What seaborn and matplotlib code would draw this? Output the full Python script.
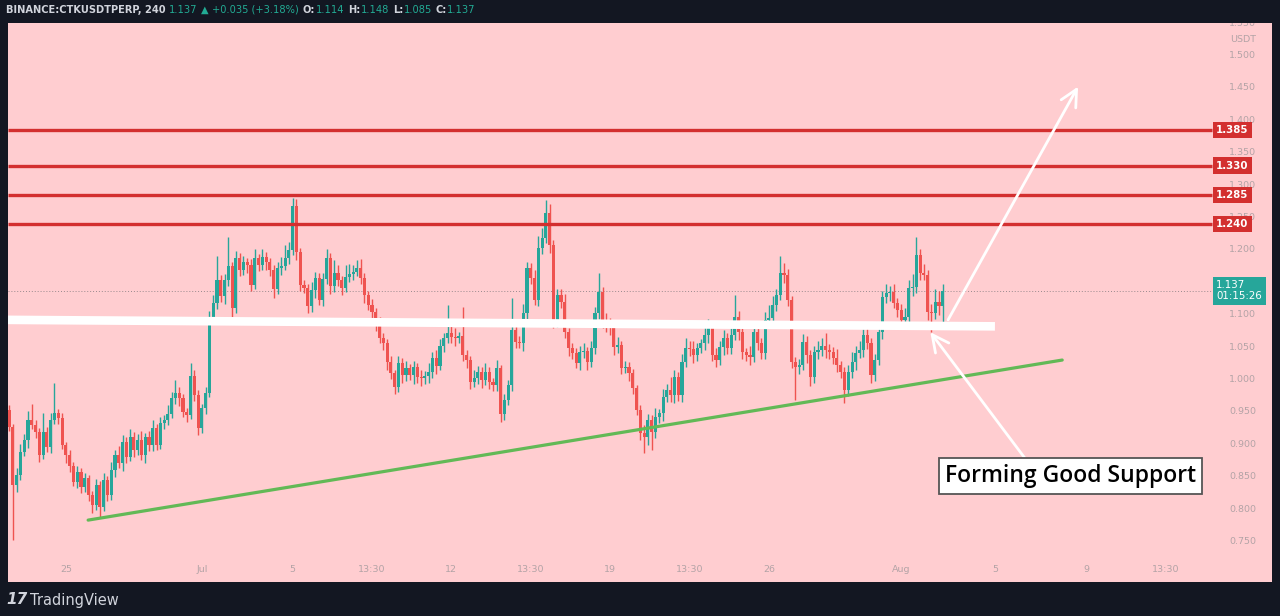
import numpy as np
import pandas as pd
import matplotlib
matplotlib.use("Agg")
import matplotlib.pyplot as plt
import matplotlib.transforms as mtrans
import seaborn as sns

# ---------------- data (4h candles, CTKUSDT perp) ----------------
first_open = 0.953
closes = [
    0.926, 0.837, 0.853, 0.888, 0.907, 0.937, 0.930, 0.919, 0.883, 0.919,
    0.896, 0.937, 0.948, 0.940, 0.899, 0.883, 0.866, 0.842, 0.857, 0.834,
    0.848, 0.822, 0.806, 0.837, 0.803, 0.845, 0.822, 0.860, 0.883, 0.871,
    0.904, 0.880, 0.911, 0.891, 0.907, 0.883, 0.911, 0.899, 0.925, 0.899,
    0.933, 0.937, 0.947, 0.971, 0.979, 0.971, 0.950, 0.945, 1.005, 0.976,
    0.925, 0.956, 0.979, 1.095, 1.118, 1.153, 1.129, 1.153, 1.175, 1.110,
    1.187, 1.169, 1.181, 1.177, 1.146, 1.187, 1.177, 1.189, 1.181, 1.169,
    1.140, 1.172, 1.175, 1.187, 1.200, 1.268, 1.197, 1.146, 1.141, 1.113,
    1.138, 1.157, 1.123, 1.155, 1.187, 1.144, 1.164, 1.153, 1.141, 1.158,
    1.163, 1.166, 1.172, 1.157, 1.130, 1.115, 1.104, 1.084, 1.064, 1.056,
    1.027, 1.010, 0.988, 1.025, 1.007, 1.018, 1.007, 1.019, 1.004, 1.002,
    1.005, 1.011, 1.033, 1.021, 1.052, 1.064, 1.072, 1.066, 1.064, 1.067,
    1.038, 1.030, 0.996, 1.002, 1.011, 0.999, 1.011, 0.996, 0.991, 1.018,
    0.947, 0.968, 0.991, 1.076, 1.058, 1.056, 1.103, 1.172, 1.157, 1.123,
    1.203, 1.218, 1.257, 1.207, 1.089, 1.130, 1.120, 1.073, 1.049, 1.041,
    1.025, 1.042, 1.044, 1.027, 1.049, 1.103, 1.135, 1.092, 1.081, 1.079,
    1.050, 1.053, 1.018, 1.019, 1.010, 0.987, 0.953, 0.917, 0.911, 0.937,
    0.919, 0.942, 0.948, 0.973, 0.984, 0.976, 1.004, 0.976, 1.027, 1.049,
    1.047, 1.038, 1.049, 1.056, 1.069, 1.081, 1.038, 1.030, 1.050, 1.064,
    1.049, 1.069, 1.096, 1.073, 1.042, 1.038, 1.035, 1.073, 1.056, 1.041,
    1.092, 1.095, 1.115, 1.130, 1.164, 1.161, 1.123, 1.027, 1.019, 1.022,
    1.058, 1.038, 1.004, 1.042, 1.045, 1.052, 1.045, 1.042, 1.033, 1.022,
    1.011, 0.984, 1.011, 1.027, 1.041, 1.045, 1.069, 1.056, 1.007, 1.030,
    1.073, 1.127, 1.133, 1.135, 1.118, 1.107, 1.092, 1.096, 1.141, 1.143,
    1.192, 1.164, 1.161, 1.104, 1.103, 1.120, 1.114, 1.137,
]
# wick lengths beyond the body, in thousandths of USDT
wick_up = [
    8, 6, 10, 12, 9, 15, 25, 8, 6, 30,
    7, 12, 47, 6, 9, 5, 8, 6, 10, 7,
    8, 5, 6, 9, 7, 10, 6, 12, 8, 15,
    10, 7, 12, 8, 9, 14, 6, 10, 12, 7,
    9, 8, 14, 10, 20, 9, 7, 6, 20, 10,
    8, 6, 9, 10, 12, 37, 8, 10, 45, 6,
    12, 8, 10, 6, 9, 14, 7, 12, 8, 6,
    8, 10, 14, 20, 12, 12, 10, 6, 8, 7,
    12, 9, 7, 10, 14, 8, 20, 12, 6, 18,
    15, 10, 12, 14, 8, 6, 9, 7, 12, 8,
    6, 10, 5, 12, 8, 10, 6, 9, 7, 10,
    8, 14, 9, 12, 10, 8, 43, 10, 14, 6,
    45, 8, 6, 12, 10, 9, 14, 8, 6, 12,
    5, 10, 8, 50, 12, 9, 14, 10, 8, 12,
    18, 15, 20, 14, 8, 10, 9, 12, 6, 8,
    7, 10, 12, 6, 10, 9, 29, 8, 10, 14,
    9, 12, 7, 10, 8, 6, 5, 8, 12, 10,
    8, 14, 6, 12, 9, 20, 10, 8, 12, 15,
    10, 12, 8, 6, 14, 12, 8, 10, 9, 12,
    8, 14, 34, 10, 8, 6, 14, 12, 10, 8,
    12, 20, 14, 10, 26, 15, 10, 6, 8, 10,
    12, 9, 8, 10, 14, 12, 20, 10, 8, 14,
    6, 8, 12, 16, 10, 14, 9, 12, 8, 10,
    12, 9, 14, 10, 12, 8, 10, 14, 12, 20,
    28, 10, 14, 8, 12, 20, 16, 11,
]
wick_dn = [
    6, 85, 10, 8, 6, 12, 7, 9, 10, 6,
    8, 10, 6, 9, 7, 12, 8, 6, 10, 9,
    8, 10, 12, 7, 15, 6, 9, 8, 10, 7,
    12, 9, 6, 10, 8, 7, 12, 9, 10, 8,
    6, 10, 8, 7, 9, 12, 8, 10, 6, 9,
    11, 8, 10, 6, 8, 10, 9, 12, 8, 13,
    7, 10, 8, 12, 9, 6, 10, 8, 12, 9,
    14, 8, 10, 6, 9, 8, 12, 10, 8, 10,
    9, 12, 8, 10, 7, 12, 9, 8, 10, 6,
    8, 10, 7, 9, 12, 8, 10, 9, 8, 10,
    12, 9, 10, 8, 12, 10, 8, 14, 10, 12,
    9, 10, 8, 12, 7, 9, 8, 10, 12, 8,
    9, 12, 10, 8, 9, 12, 8, 10, 9, 8,
    12, 10, 8, 9, 10, 8, 12, 9, 10, 8,
    9, 10, 8, 12, 10, 8, 10, 9, 12, 10,
    8, 10, 9, 12, 8, 10, 9, 12, 8, 10,
    12, 9, 10, 8, 12, 9, 8, 10, 24, 12,
    28, 10, 9, 12, 8, 10, 12, 9, 10, 8,
    10, 12, 9, 8, 10, 12, 9, 10, 8, 12,
    9, 10, 8, 12, 10, 9, 12, 8, 10, 9,
    10, 8, 9, 10, 8, 12, 10, 9, 51, 10,
    8, 12, 14, 9, 10, 8, 12, 10, 9, 10,
    8, 20, 10, 9, 12, 8, 10, 9, 12, 10,
    8, 10, 9, 12, 8, 10, 9, 8, 10, 12,
    9, 10, 8, 12, 29, 10, 14, 29,
]

levels = [1.385, 1.330, 1.285, 1.240]
level_labels = ["1.385", "1.330", "1.285", "1.240"]
price_ticks = [0.75, 0.80, 0.85, 0.90, 0.95, 1.00, 1.05, 1.10, 1.15, 1.20,
               1.25, 1.30, 1.35, 1.40, 1.45, 1.50, 1.55]
x_tick_pos = [15, 51, 75, 96, 117, 138, 159, 180, 201, 236, 261, 285, 306]
x_tick_labels = ["25", "Jul", "5", "13:30", "12", "13:30", "19", "13:30",
                 "26", "Aug", "5", "9", "13:30"]
last_price = 1.137
countdown = "01:15:26"
support_x = [-0.3, 260.8]
support_y = [1.092, 1.082]
trend_x = [20.9, 278.6]
trend_y = [0.783, 1.030]
header = [("BINANCE:CTKUSDTPERP, 240", "w"), ("1.137", "g"), ("\u25B2", "g"),
          ("+0.035 (+3.18%)", "g"), ("O:", "w"), ("1.114", "g"), ("H:", "w"),
          ("1.148", "g"), ("L:", "w"), ("1.085", "g"), ("C:", "w"), ("1.137", "g")]

# ---------------- build table ----------------
opens = [first_open] + closes[:-1]
df = pd.DataFrame({"open": opens, "close": closes,
                   "up": np.array(wick_up) / 1000.0, "dn": np.array(wick_dn) / 1000.0})
df["idx"] = np.arange(len(df))
df["high"] = df[["open", "close"]].max(axis=1) + df["up"]
df["low"] = df[["open", "close"]].min(axis=1) - df["dn"]
df["bull"] = df["close"] >= df["open"]

GREEN = "#26a69a"
RED = "#ef5350"
BG = "#131722"
PINK = "#ffcdd0"
LEVEL = "#d32f2f"
AXTXT = "#b3a3a6"

sns.set_style("white")
plt.rcParams["font.family"] = ["DejaVu Sans"]

W, H = 1280, 616
fig = plt.figure(figsize=(W / 100, H / 100), dpi=100, facecolor=BG)
ax = fig.add_axes([8 / W, 34 / H, 1264 / W, 559 / H])
ax.set_facecolor(PINK)
for s in ax.spines.values():
    s.set_visible(False)
ax.set_xticks([])
ax.set_yticks([])
ax.set_xlim(-0.3, 334.1)
ax.set_ylim(0.6875, 1.5501)

# candles
cols = np.where(df["bull"], GREEN, RED)
ax.vlines(df["idx"], df["low"], df["high"], colors=cols, lw=1.0, zorder=2)
body_lo = df[["open", "close"]].min(axis=1)
body_h = (df["close"] - df["open"]).abs().clip(lower=0.0018)
ax.bar(df["idx"], body_h, bottom=body_lo, width=0.82, color=cols,
       edgecolor="none", zorder=3)

# last price dotted line
level_end = 318.3
ax.hlines(last_price, -0.3, level_end, colors="#9a8a8e", lw=0.7,
          linestyles=(0, (1, 2)), zorder=1)

# resistance levels
for lv in levels:
    ax.hlines(lv, -0.3, level_end, colors=LEVEL, lw=2.4, zorder=4)

# support (white) and trend (green) lines
sns.lineplot(x=support_x, y=support_y, ax=ax, color="white", lw=6.2,
             solid_capstyle="butt", zorder=5, legend=False)
sns.lineplot(x=trend_x, y=trend_y, ax=ax, color="#62b956", lw=2.3,
             solid_capstyle="round", zorder=5, legend=False)

# arrows
ax.annotate("", xy=(282.8, 1.452), xytext=(248.4, 1.092),
            arrowprops=dict(arrowstyle="->", color="white", lw=2.0,
                            mutation_scale=30, shrinkA=0, shrinkB=0), zorder=6)
ax.annotate("", xy=(243.7, 1.073), xytext=(268.8, 0.878),
            arrowprops=dict(arrowstyle="->", color="white", lw=2.0,
                            mutation_scale=30, shrinkA=0, shrinkB=0), zorder=6)

# annotation box
ax.text(280.7, 0.851, "Forming Good Support", ha="center", va="center",
        fontsize=16.5, color="black", family=["Open Sans", "DejaVu Sans"],
        weight="semibold", zorder=7,
        bbox=dict(boxstyle="square,pad=0.26", fc="white", ec="#555555", lw=1.3))

# price scale labels
for v in price_ticks:
    ax.text(326.4, v, f"{v:.3f}", ha="center", va="center", fontsize=6.8,
            color=AXTXT, zorder=1, clip_on=True)
ax.annotate("USDT", xy=(326.4, 1.55), xytext=(0, -12), textcoords="offset points",
            ha="center", va="center", fontsize=6.8, color=AXTXT)

for lv, lab in zip(levels, level_labels):
    ax.text(323.6, lv, lab, ha="center", va="center", fontsize=7.4,
            color="white", weight="bold", zorder=8,
            bbox=dict(boxstyle="square,pad=0.32", fc=LEVEL, ec="none"))
ax.text(325.4, last_price, f"{last_price:.3f}\n{countdown}", ha="center",
        va="center", fontsize=7.4, color="white", linespacing=1.15,
        multialignment="left", zorder=8,
        bbox=dict(boxstyle="square,pad=0.35", fc=GREEN, ec="none"))

# time scale labels
xt = mtrans.blended_transform_factory(ax.transData, ax.transAxes)
for p, lab in zip(x_tick_pos, x_tick_labels):
    ax.text(p, 0.0215, lab, transform=xt, ha="center", va="center",
            fontsize=6.8, color=AXTXT)

# header line
prev = fig.text(6 / W, 1 - 10 / H, header[0][0], color="#d1d4dc", fontsize=7.1,
                weight="bold", va="center", ha="left")
for txt, kind in header[1:]:
    gap = 0.4 if prev.get_text().endswith(":") else 2.6
    prev = ax.annotate(txt, xy=(1, 0.5), xycoords=prev, xytext=(gap, 0),
                       textcoords="offset points", va="center", ha="left",
                       fontsize=7.1, annotation_clip=False,
                       color=("#d1d4dc" if kind == "w" else "#22ab94"),
                       weight=("bold" if kind == "w" else "normal"))

# footer logo
fig.text(6 / W, 16 / H, "17", color="#d1d4dc", fontsize=11, weight="heavy",
         va="center", ha="left", style="italic")
fig.text(30 / W, 16 / H, "TradingView", color="#d1d4dc", fontsize=10.5,
         va="center", ha="left")

fig.savefig("out.png", dpi=100, facecolor=BG)
